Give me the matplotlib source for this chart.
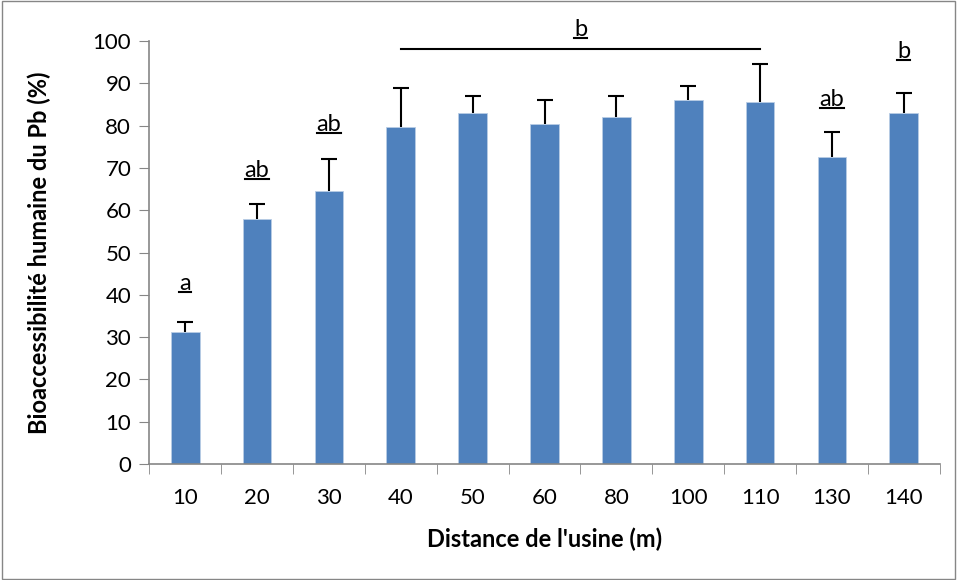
import matplotlib
matplotlib.use("Agg")
import matplotlib.pyplot as plt
import numpy as np

# data
distances = ["10", "20", "30", "40", "50", "60", "80", "100", "110", "130", "140"]
bioaccess = [31.2, 57.9, 64.6, 79.6, 83.0, 80.5, 82.0, 86.0, 85.5, 72.6, 82.9]
err_top = [33.6, 61.5, 72.2, 89.0, 87.1, 86.1, 87.0, 89.3, 94.6, 78.6, 87.7]
letters = ["a", "ab", "ab", "", "", "", "", "", "", "ab", "b"]
letter_y = [42.8, 69.5, 80.4, 0, 0, 0, 0, 0, 0, 86.3, 97.5]

plt.rcParams['font.family'] = ['Lato', 'DejaVu Sans']

fig = plt.figure(figsize=(9.57, 5.8), dpi=100)
ax = fig.add_axes([0.156, 0.2, 0.826, 0.729])

x = np.arange(len(distances))
err = np.array(err_top) - np.array(bioaccess)
ax.bar(x, bioaccess, width=0.4, color='#4F81BD', edgecolor='#B9CDE5', linewidth=0.6, zorder=2)
eb = ax.errorbar(x, bioaccess, yerr=[np.zeros(len(x)), err], fmt='none',
                 ecolor='black', elinewidth=1.5, capsize=6, capthick=1.5, zorder=3)
eb[1][0].set_visible(False)  # no cap at the bottom (top of bar)

# significance letters
sig_texts = []
for xi, lab, ly in zip(x, letters, letter_y):
    if lab:
        sig_texts.append(ax.text(xi, ly, lab, ha='center', va='center', fontsize=17))

# bracket over 40..110
ax.plot([3, 8], [98.1, 98.1], color='black', lw=1.5, clip_on=False)
sig_texts.append(ax.text(5.5, 102.8, 'b', ha='center', va='center', fontsize=17))

ax.set_xlim(-0.5, len(x) - 0.5)
ax.set_ylim(0, 100)
ax.set_yticks(np.arange(0, 101, 10))
ax.set_xticks(x)
ax.set_xticklabels(distances)
ax.set_xticks(np.arange(-0.5, len(x), 1), minor=True)
ax.tick_params(axis='x', which='major', length=0, pad=17, labelsize=16)
ax.tick_params(axis='x', which='minor', length=7, color='#868686', direction='out')
ax.tick_params(axis='y', length=7, color='#868686', labelsize=16, pad=6)

for s in ['top', 'right']:
    ax.spines[s].set_visible(False)
for s in ['left', 'bottom']:
    ax.spines[s].set_color('#868686')
    ax.spines[s].set_linewidth(1.2)

ax.set_xlabel("Distance de l'usine (m)", fontsize=17, fontweight='bold', labelpad=14)
ax.set_ylabel("Bioaccessibilité humaine du Pb (%)", fontsize=17, fontweight='bold', labelpad=30)

# underline the letters using their rendered extents
fig.canvas.draw()
inv = ax.transData.inverted()
for t in sig_texts:
    bb = t.get_window_extent()
    (x0, y0), (x1, _) = inv.transform([[bb.x0, bb.y0 + 2], [bb.x1, bb.y0 + 2]])
    ax.plot([x0, x1], [y0, y0], color='black', lw=1.5, clip_on=False)

# grey frame around the chart area
fig.patches.append(plt.Rectangle((0.002, 0.002), 0.996, 0.996, transform=fig.transFigure,
                                 fill=False, edgecolor='#868686', lw=1))

fig.savefig("out.png", dpi=100)
